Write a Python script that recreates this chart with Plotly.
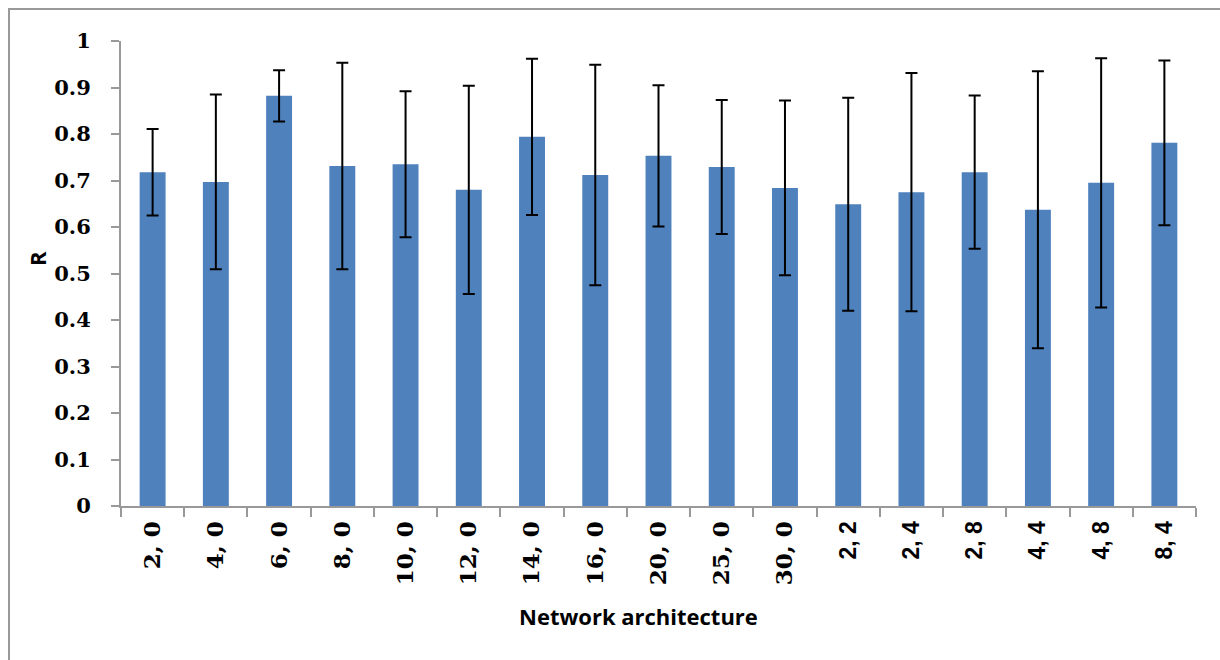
import plotly.graph_objects as go

categories = ["2, 0", "4, 0", "6, 0", "8, 0", "10, 0", "12, 0", "14, 0", "16, 0", "20, 0",
              "25, 0", "30, 0", "2, 2", "2, 4", "2, 8", "4, 4", "4, 8", "8, 4"]
r_values = [0.718, 0.697, 0.882, 0.731, 0.735, 0.680, 0.794, 0.712, 0.753,
            0.729, 0.684, 0.649, 0.675, 0.718, 0.637, 0.695, 0.781]
r_errors = [0.093, 0.188, 0.055, 0.222, 0.157, 0.224, 0.168, 0.237, 0.152,
            0.144, 0.188, 0.229, 0.256, 0.165, 0.298, 0.268, 0.177]
y_ticks = [0, 0.1, 0.2, 0.3, 0.4, 0.5, 0.6, 0.7, 0.8, 0.9, 1]
y_ticktext = ["0", "0.1", "0.2", "0.3", "0.4", "0.5", "0.6", "0.7", "0.8", "0.9", "1"]
x_title = "Network architecture"
y_title = "R"

# first 11 labels serif, last 6 sans (as in the reference)
x_ticktext = []
for i, c in enumerate(categories):
    if i < 11:
        x_ticktext.append("<b>" + c + "</b>")
    else:
        x_ticktext.append('<b><span style="font-family:Liberation Sans">' + c + '</span></b>')

W, H = 1220, 660
L, R, T, B = 121, 24, 41, 154
pw, ph = W - L - R, H - T - B

def px_x(p):
    return (p - L) / pw

def px_y(p):
    return (H - B - p) / ph

fig = go.Figure()
fig.add_trace(go.Bar(
    x=categories, y=r_values,
    marker=dict(color="#4F81BD", line=dict(width=0)),
    error_y=dict(type="data", array=r_errors, visible=True,
                 color="black", thickness=2, width=6),
    hoverinfo="skip",
))

fig.add_shape(type="rect", xref="paper", yref="paper",
              x0=px_x(9), x1=px_x(1240), y0=px_y(9), y1=px_y(680),
              line=dict(color="#999999", width=2), fillcolor="rgba(0,0,0,0)")

fig.add_annotation(text="<b>" + x_title + "</b>", xref="paper", yref="paper",
                   x=px_x(638), y=px_y(616), xanchor="center", yanchor="middle",
                   showarrow=False, font=dict(family="Open Sans", size=22, color="black"))
fig.add_annotation(text="<b>" + y_title + "</b>", xref="paper", yref="paper",
                   x=px_x(37), y=px_y(259), xanchor="center", yanchor="middle",
                   textangle=-90, showarrow=False,
                   font=dict(family="Open Sans", size=22, color="black"))

fig.update_layout(
    width=W, height=H,
    margin=dict(l=L, r=R, t=T, b=B),
    paper_bgcolor="white", plot_bgcolor="white",
    bargap=0.59,
    showlegend=False,
    xaxis=dict(
        type="category",
        tickmode="array", tickvals=categories, ticktext=x_ticktext,
        tickangle=-90,
        tickfont=dict(family="DejaVu Serif", size=23, color="black"),
        showline=True, linecolor="#999999", linewidth=2,
        ticks="outside", tickson="boundaries", ticklen=9, tickcolor="#999999", tickwidth=2,
        ticklabelstandoff=4,
        showgrid=False,
    ),
    yaxis=dict(
        range=[0, 1],
        tickmode="array", tickvals=y_ticks, ticktext=["<b>" + t + "</b>" for t in y_ticktext],
        tickfont=dict(family="DejaVu Serif", size=21, color="black"),
        showline=True, linecolor="#999999", linewidth=2,
        ticks="outside", ticklen=8, tickcolor="#999999", tickwidth=2,
        ticklabelstandoff=16,
        showgrid=False, zeroline=False,
    ),
)

fig.write_html("out.html", config={"displayModeBar": False},
               post_script="document.body.style.margin='0';")
